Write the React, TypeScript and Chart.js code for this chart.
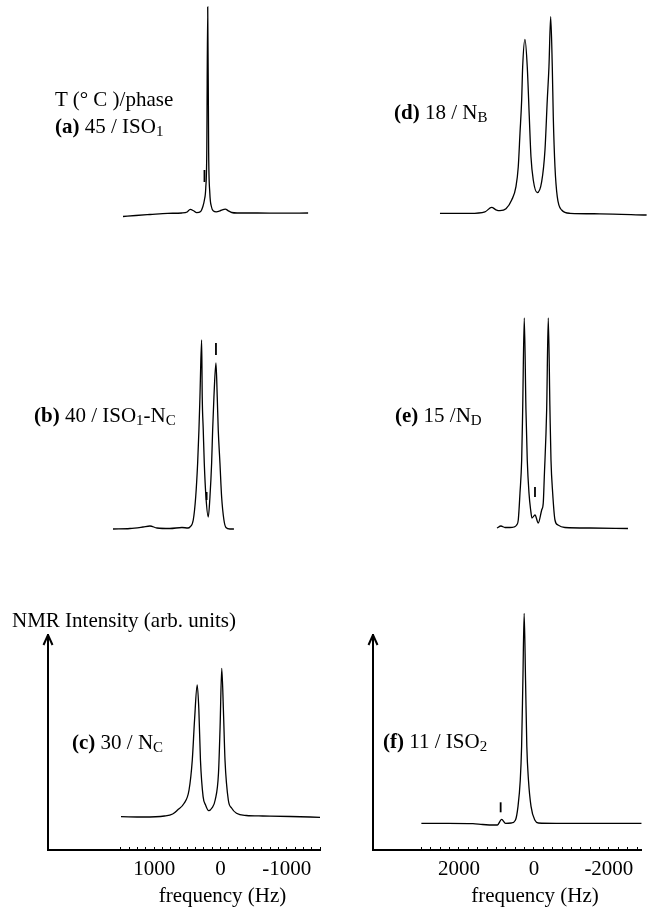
import React, { useEffect, useRef } from 'react';
import { Chart, registerables } from 'chart.js';

Chart.register(...registerables);

const SERIF = "'Liberation Serif', 'Times New Roman', Times, serif";

// ---- Spectra: frequency (Hz) and NMR intensity (arb. units, 0 = spectrum baseline)
// (a) 45 / ISO1
const A_FREQ = [1490, 1300, 1090, 830, 620, 540, 495, 440, 400, 340, 310, 285, 265, 250, 236, 222, 205, 180, 150, 110, 60, 20, -25, -70, -120, -200, -500, -850, -1250];
const A_INT = [-3.5, -2.5, -1.5, -0.3, 0, 1, 3.7, 2, 0.3, 1.5, 6, 13, 25, 60, 206, 60, 20, 6, 2, 1.2, 2, 3.2, 3.8, 2.2, 0.5, 0, 0, -0.2, 0];

// (b) 40 / ISO1-NC
const B_FREQ = [1638, 1387, 1194, 1091, 987, 795, 617, 528, 499, 450, 414, 385, 366, 351, 326, 317, 302, 287, 262, 228, 203, 178, 163, 144, 114, 95, 80, 55, 30, -4, -34, -93, -152];
const B_INT = [0, 0.5, 2, 3, 1, 0.5, 1.5, 1, 2, 9, 32, 66, 99, 132, 189, 132, 99, 66, 32, 12, 32, 66, 99, 132, 166, 132, 99, 66, 32, 9, 1.5, 0, 0];

// (c) 30 / NC
const C_FREQ = [1500, 1165, 844, 721, 647, 548, 474, 425, 391, 351, 326, 302, 262, 225, 178, 129, 80, 30, 6, -19, -44, -68, -118, -167, -241, -389, -636, -1055, -1500];
const C_INT = [0.3, 0, 1, 3, 7, 13.7, 27, 57, 97, 132, 107, 57, 20.3, 12, 6.3, 9, 17, 44, 90, 148.7, 107, 57, 17, 9, 3.7, 1.5, 1, 0.5, -0.3];

// (d) 18 / NB
const D_FREQ = [2540, 1756, 1364, 1189, 1077, 972, 815, 666, 554, 494, 449, 405, 379, 319, 259, 206, 162, 102, -3, -118, -204, -264, -308, -353, -395, -421, -465, -525, -640, -857, -1641, -2860];
const D_INT = [0, 0, 1.5, 6, 3.5, 2.6, 4.5, 13.3, 26.6, 46.6, 80, 113.3, 146.6, 174, 146.6, 96.6, 56.6, 33.3, 20.6, 31.6, 63.3, 113.3, 146.6, 196.6, 146.6, 96.6, 46.6, 16.6, 3.3, 0, -0.5, -1.7];

// (e) 15 / ND
const E_FREQ = [1050, 946, 841, 711, 606, 536, 494, 449, 405, 379, 337, 293, 259, 214, 170, 136, 57, -29, -118, -159, -186, -248, -290, -334, -361, -405, -465, -544, -726, -1380, -2373];
const E_INT = [0, 2, 0.5, 0.5, 1, 3, 8, 35, 68, 118, 210, 118, 68, 35, 18, 10, 13, 5, 18, 25, 51, 118, 210, 118, 68, 35, 8, 3, 0.5, 0, -0.5];

// (f) 11 / ISO2
const F_FREQ = [3000, 2279, 1625, 1364, 1050, 972, 860, 755, 600, 494, 423, 363, 327, 293, 259, 222, 188, 144, 76, -29, -120, -596, -1641, -2869];
const F_INT = [0, 0, -0.3, -1.2, -1.7, -1.7, 4, 0, 0.3, 3, 17, 43, 77, 143, 210, 143, 77, 43, 17, 3, 0.3, 0, 0, 0];

// small vertical marker strokes drawn on the spectra (frequency, intensity, half length)
const A_MARK_FREQ = [284];
const A_MARK_INT = [37];
const A_MARK_LEN = [6];
const B_MARK_FREQ = [114, 252];
const B_MARK_INT = [180, 33];
const B_MARK_LEN = [6, 4];
const E_MARK_FREQ = [57];
const E_MARK_INT = [36];
const E_MARK_LEN = [5];
const F_MARK_FREQ = [886];
const F_MARK_INT = [16];
const F_MARK_LEN = [5];

// frequency axes
const LEFT_TICKS = [1500, 1375, 1250, 1125, 1000, 875, 750, 625, 500, 375, 250, 125, 0, -125, -250, -375, -500, -625, -750, -875, -1000, -1125, -1250, -1375, -1500];
const LEFT_LABELS = [1000, 0, -1000];
const RIGHT_TICKS = [3000, 2750, 2500, 2250, 2000, 1750, 1500, 1250, 1000, 750, 500, 250, 0, -250, -500, -750, -1000, -1250, -1500, -1750, -2000, -2250, -2500, -2750];
const RIGHT_LABELS = [2000, 0, -2000];

const LEFT_RANGE = [-1500, 2600];
const RIGHT_RANGE = [-2870, 4290];

type PanelProps = {
  left: number;
  top: number;
  width: number;
  height: number;
  padding: { left: number; right: number; top: number; bottom: number };
  xRange: number[];
  yMin: number;
  yMax: number;
  freq: number[];
  inten: number[];
  markFreq?: number[];
  markInt?: number[];
  markLen?: number[];
  ticks?: number[];
  labels?: number[];
  axisHeight?: number;
};

const arrowPlugin = {
  id: 'yArrow',
  afterDraw(chart: any) {
    const { ctx, chartArea } = chart;
    const x = Math.round(chartArea.left);
    const y = chartArea.top;
    ctx.save();
    ctx.strokeStyle = '#000';
    ctx.lineWidth = 2;
    ctx.lineJoin = 'round';
    ctx.beginPath();
    ctx.moveTo(x - 4.5, y + 10);
    ctx.lineTo(x, y);
    ctx.lineTo(x + 4.5, y + 10);
    ctx.stroke();
    ctx.restore();
  },
};

function Panel(p: PanelProps) {
  const ref = useRef<HTMLCanvasElement>(null);
  useEffect(() => {
    const canvas = ref.current;
    if (!canvas) return;
    const hasAxis = !!p.ticks;
    const datasets: any[] = [
      {
        data: p.freq.map((f, i) => ({ x: f, y: p.inten[i] })),
        borderColor: '#000',
        borderWidth: 1.3,
        pointRadius: 0,
        cubicInterpolationMode: 'monotone',
        fill: false,
        clip: false,
      },
    ];
    if (p.markFreq) {
      datasets.push({
        data: p.markFreq.map((f, i) => ({ x: f, y: p.markInt![i] })),
        showLine: false,
        pointStyle: 'line',
        pointRotation: 90,
        pointRadius: p.markLen,
        pointBorderWidth: 1.8,
        pointBorderColor: '#000',
        borderColor: '#000',
        clip: false,
      });
    }
    const scales: any = {
      x: {
        type: 'linear',
        reverse: true,
        min: p.xRange[0],
        max: p.xRange[1],
        display: hasAxis,
      },
      y: {
        type: 'linear',
        min: p.yMin,
        max: p.yMax,
        display: hasAxis,
      },
    };
    if (hasAxis) {
      scales.x = {
        ...scales.x,
        position: 'bottom',
        afterBuildTicks: (s: any) => {
          s.ticks = p.ticks!.map((v) => ({ value: v }));
        },
        afterFit: (s: any) => {
          s.height = p.axisHeight;
        },
        ticks: {
          autoSkip: false,
          maxRotation: 0,
          minRotation: 0,
          padding: 10,
          color: '#000',
          font: { family: SERIF, size: 21 },
          callback: (v: any) => (p.labels!.includes(Number(v)) ? String(v) : ''),
        },
        grid: {
          display: true,
          drawOnChartArea: false,
          drawTicks: true,
          tickLength: -3,
          color: '#000',
          lineWidth: 1,
        },
        border: { display: true, color: '#000', width: 2 },
      };
      scales.y = {
        ...scales.y,
        position: 'left',
        afterFit: (s: any) => {
          s.width = 0;
        },
        ticks: { display: false },
        grid: { display: true, drawOnChartArea: false, drawTicks: false },
        border: { display: true, color: '#000', width: 2 },
      };
    }
    const chart = new Chart(canvas, {
      type: 'line',
      data: { datasets },
      options: {
        responsive: false,
        animation: false,
        devicePixelRatio: 1,
        events: [],
        layout: { padding: p.padding, autoPadding: false },
        plugins: {
          legend: { display: false },
          tooltip: { enabled: false },
          title: { display: false },
        },
        scales,
      } as any,
      plugins: hasAxis ? [arrowPlugin] : [],
    });
    return () => chart.destroy();
  }, []);
  return (
    <canvas
      ref={ref}
      width={p.width}
      height={p.height}
      style={{ position: 'absolute', left: p.left, top: p.top, width: p.width, height: p.height }}
    />
  );
}

const textBase: React.CSSProperties = {
  position: 'absolute',
  fontFamily: SERIF,
  fontSize: 21,
  lineHeight: '21px',
  whiteSpace: 'nowrap',
  color: '#000',
};

function Label({ left, baseline, children }: { left: number; baseline: number; children: React.ReactNode }) {
  return <div style={{ ...textBase, left, top: baseline - 17.6 }}>{children}</div>;
}

function Sub({ children }: { children: React.ReactNode }) {
  return <span style={{ fontSize: 15, position: 'relative', top: 3 }}>{children}</span>;
}

function Tag({ children }: { children: React.ReactNode }) {
  return <b>{children}</b>;
}

const LEFT_COL = { left: 40, width: 290, padding: { left: 8, right: 5 } };
const RIGHT_COL = { left: 365, width: 282, padding: { left: 8, right: 0 } };

export default function App() {
  return (
    <div style={{ position: 'absolute', left: 0, top: 0, width: 647, height: 907, overflow: 'hidden', background: '#fff' }}>
      {/* (a) */}
      <Panel left={LEFT_COL.left} top={0} width={LEFT_COL.width} height={230}
        padding={{ ...LEFT_COL.padding, top: 0, bottom: 0 }} xRange={LEFT_RANGE} yMin={-17} yMax={213}
        freq={A_FREQ} inten={A_INT} markFreq={A_MARK_FREQ} markInt={A_MARK_INT} markLen={A_MARK_LEN} />
      {/* (b) */}
      <Panel left={LEFT_COL.left} top={300} width={LEFT_COL.width} height={245}
        padding={{ ...LEFT_COL.padding, top: 0, bottom: 0 }} xRange={LEFT_RANGE} yMin={-16} yMax={229}
        freq={B_FREQ} inten={B_INT} markFreq={B_MARK_FREQ} markInt={B_MARK_INT} markLen={B_MARK_LEN} />
      {/* (c) */}
      <Panel left={LEFT_COL.left} top={600} width={LEFT_COL.width} height={307}
        padding={{ ...LEFT_COL.padding, top: 35, bottom: 0 }} xRange={LEFT_RANGE} yMin={-33} yMax={182}
        freq={C_FREQ} inten={C_INT} ticks={LEFT_TICKS} labels={LEFT_LABELS} axisHeight={57} />
      {/* (d) */}
      <Panel left={RIGHT_COL.left} top={0} width={RIGHT_COL.width} height={230}
        padding={{ ...RIGHT_COL.padding, top: 0, bottom: 0 }} xRange={RIGHT_RANGE} yMin={-16.7} yMax={213.3}
        freq={D_FREQ} inten={D_INT} />
      {/* (e) */}
      <Panel left={RIGHT_COL.left} top={300} width={RIGHT_COL.width} height={245}
        padding={{ ...RIGHT_COL.padding, top: 0, bottom: 0 }} xRange={RIGHT_RANGE} yMin={-17} yMax={228}
        freq={E_FREQ} inten={E_INT} markFreq={E_MARK_FREQ} markInt={E_MARK_INT} markLen={E_MARK_LEN} />
      {/* (f) */}
      <Panel left={RIGHT_COL.left} top={600} width={RIGHT_COL.width} height={307}
        padding={{ ...RIGHT_COL.padding, top: 35, bottom: 0 }} xRange={RIGHT_RANGE} yMin={-26.7} yMax={188.3}
        freq={F_FREQ} inten={F_INT} markFreq={F_MARK_FREQ} markInt={F_MARK_INT} markLen={F_MARK_LEN}
        ticks={RIGHT_TICKS} labels={RIGHT_LABELS} axisHeight={57} />

      <Label left={55} baseline={107}>T (° C )/phase</Label>
      <Label left={55} baseline={134}><Tag>(a)</Tag> 45 / ISO<Sub>1</Sub></Label>
      <Label left={34} baseline={423}><Tag>(b)</Tag> 40 / ISO<Sub>1</Sub>-N<Sub>C</Sub></Label>
      <Label left={72} baseline={750}><Tag>(c)</Tag> 30 / N<Sub>C</Sub></Label>
      <Label left={394} baseline={120}><Tag>(d)</Tag> 18 / N<Sub>B</Sub></Label>
      <Label left={395} baseline={423}><Tag>(e)</Tag> 15 /N<Sub>D</Sub></Label>
      <Label left={383} baseline={749}><Tag>(f)</Tag> 11 / ISO<Sub>2</Sub></Label>
      <Label left={12} baseline={628}>NMR Intensity (arb. units)</Label>
      <div style={{ ...textBase, left: 222.5, top: 903 - 17.6, transform: 'translateX(-50%)' }}>frequency (Hz)</div>
      <div style={{ ...textBase, left: 535, top: 903 - 17.6, transform: 'translateX(-50%)' }}>frequency (Hz)</div>
    </div>
  );
}
